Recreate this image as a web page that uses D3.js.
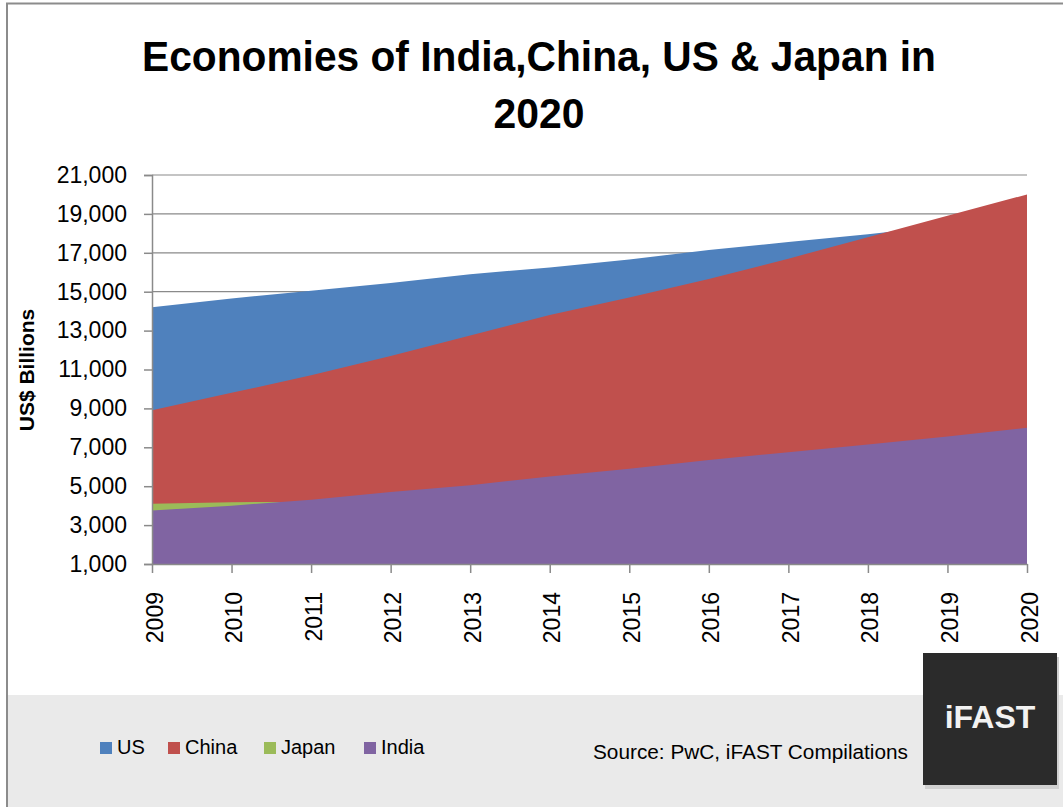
<!DOCTYPE html>
<html>
<head>
<meta charset="utf-8">
<script src="https://cdn.jsdelivr.net/npm/d3@7"></script>
<style>
    body { margin: 0; background: #fff; }
    svg { display: block; }
</style>
</head>
<body>
<div id="chart"></div>
<script>
'use strict';

// data (US$ billions)
const years = [2009, 2010, 2011, 2012, 2013, 2014, 2015, 2016, 2017, 2018, 2019, 2020];
const usValues = [14200, 14650, 15050, 15450, 15900, 16250, 16650, 17150, 17550, 17950, 18400, 18800];
const chinaValues = [8900, 9800, 10700, 11700, 12750, 13800, 14700, 15650, 16700, 17800, 18900, 20000];
const japanValues = [4100, 4180, 4190, 4280, 4370, 4450, 4530, 4610, 4690, 4770, 4850, 4930];
const indiaValues = [3750, 4000, 4300, 4700, 5050, 5500, 5900, 6350, 6750, 7150, 7550, 8000];
const seriesNames = ['US', 'China', 'Japan', 'India'];
const yTicks = [1000, 3000, 5000, 7000, 9000, 11000, 13000, 15000, 17000, 19000, 21000];

class AreaChart {

    constructor(_ref) {
        this.parent = _ref;

        // one list per series, drawn back to front
        this.series = [
            {name: 'US', values: usValues, color: '#4f81bd'},
            {name: 'China', values: chinaValues, color: '#c0504d'},
            {name: 'Japan', values: japanValues, color: '#9bbb59'},
            {name: 'India', values: indiaValues, color: '#8064a2'}
        ];

        this.initVis();
    }

    initVis() {
        const vis = this;

        // Config
        vis.w = 1063;
        vis.h = 807;
        vis.margin = {top: 175, right: 36, bottom: 243, left: 152};

        vis.svg = d3.select(`#${vis.parent}`)
            .append('svg')
            .attr('width', vis.w)
            .attr('height', vis.h)
            .style('font-family', '"Liberation Sans", Arial, sans-serif');

        // Bottom band
        vis.svg.append('rect')
            .attr('x', 8)
            .attr('y', 695)
            .attr('width', vis.w - 8)
            .attr('height', vis.h - 695)
            .attr('fill', '#eaeaea');

        // Frame
        vis.svg.append('path')
            .attr('d', `M7,${vis.h} V3.5 H${vis.w}`)
            .attr('fill', 'none')
            .attr('stroke', '#8c8c8c')
            .attr('stroke-width', 2);

        // Title
        vis.svg.append('text')
            .attr('x', 539)
            .attr('y', 71)
            .attr('text-anchor', 'middle')
            .attr('font-size', 43)
            .attr('font-weight', 'bold')
            .attr('textLength', 794)
            .attr('lengthAdjust', 'spacingAndGlyphs')
            .text('Economies of India,China, US & Japan in');

        vis.svg.append('text')
            .attr('x', 539)
            .attr('y', 128)
            .attr('text-anchor', 'middle')
            .attr('font-size', 43)
            .attr('font-weight', 'bold')
            .attr('textLength', 91)
            .attr('lengthAdjust', 'spacingAndGlyphs')
            .text('2020');

        // Scales
        vis.xScale = d3.scaleLinear()
            .domain(d3.extent(years))
            .range([vis.margin.left, vis.w - vis.margin.right]);

        vis.yScale = d3.scaleLinear()
            .domain([yTicks[0], yTicks[yTicks.length - 1]])
            .range([vis.h - vis.margin.bottom, vis.margin.top]);

        vis.plotG = vis.svg.append('g').attr('class', 'plotG');

        // Gridlines
        vis.plotG.selectAll('.grid')
            .data(yTicks.slice(1))
            .join('line')
            .attr('class', 'grid')
            .attr('x1', vis.xScale.range()[0])
            .attr('x2', vis.xScale.range()[1])
            .attr('y1', d => vis.yScale(d))
            .attr('y2', d => vis.yScale(d))
            .attr('stroke', '#8a8a8a')
            .attr('stroke-width', 1.2);

        vis.areaMaker = d3.area()
            .x(d => vis.xScale(d.year))
            .y0(vis.yScale(yTicks[0]))
            .y1(d => vis.yScale(d.value));

        vis.updateVis();
    }

    updateVis() {
        const vis = this;

        // Areas
        vis.plotG.selectAll('.area')
            .data(vis.series)
            .join('path')
            .attr('class', 'area')
            .attr('fill', d => d.color)
            .attr('d', d => vis.areaMaker(years.map((y, i) => ({year: y, value: d.values[i]}))));

        // Y axis
        const yAxis = d3.axisLeft(vis.yScale)
            .tickValues(yTicks)
            .tickFormat(d3.format(','))
            .tickSize(8)
            .tickPadding(17);

        const yG = vis.svg.append('g')
            .attr('transform', `translate(${vis.margin.left},0)`)
            .call(yAxis);

        // X axis
        const xAxis = d3.axisBottom(vis.xScale)
            .tickValues(years)
            .tickFormat(d3.format('d'))
            .tickSize(9)
            .tickSizeOuter(0);

        const xG = vis.svg.append('g')
            .attr('transform', `translate(0,${vis.yScale(yTicks[0])})`)
            .call(xAxis);

        xG.selectAll('text')
            .attr('transform', 'rotate(-90)')
            .attr('text-anchor', 'end')
            .attr('x', -28)
            .attr('y', 2)
            .attr('dy', '0.35em');

        [yG, xG].forEach(g => {
            g.select('.domain').attr('stroke', '#8a8a8a').attr('stroke-width', 1.5);
            g.selectAll('.tick line').attr('stroke', '#8a8a8a').attr('stroke-width', 1.5);
            g.selectAll('text')
                .attr('font-family', '"Liberation Sans", Arial, sans-serif')
                .attr('font-size', 23)
                .attr('fill', '#000');
        });

        // Y title
        vis.svg.append('text')
            .attr('transform', `translate(34,370) rotate(-90)`)
            .attr('text-anchor', 'middle')
            .attr('font-size', 21)
            .attr('font-weight', 'bold')
            .text('US$ Billions');

        // Legend
        const legendX = [100, 168, 264, 364];
        const legendG = vis.svg.append('g').attr('class', 'legendG');
        const item = legendG.selectAll('.legItem')
            .data(vis.series)
            .join('g')
            .attr('class', 'legItem')
            .attr('transform', (d, i) => `translate(${legendX[i]},742)`);

        item.append('rect')
            .attr('width', 12)
            .attr('height', 12)
            .attr('fill', d => d.color);

        item.append('text')
            .attr('x', 17)
            .attr('y', 12)
            .attr('font-size', 20)
            .text((d, i) => seriesNames[i]);

        // Source
        vis.svg.append('text')
            .attr('x', 593)
            .attr('y', 759)
            .attr('font-size', 20)
            .attr('textLength', 315)
            .attr('lengthAdjust', 'spacingAndGlyphs')
            .text('Source: PwC, iFAST Compilations');

        // Logo
        vis.svg.append('rect')
            .attr('x', 925)
            .attr('y', 657)
            .attr('width', 134)
            .attr('height', 132)
            .attr('fill', '#d0d0d0');
        vis.svg.append('rect')
            .attr('x', 923)
            .attr('y', 653)
            .attr('width', 134)
            .attr('height', 132)
            .attr('fill', '#2b2b2b');
        vis.svg.append('text')
            .attr('x', 990)
            .attr('y', 728)
            .attr('text-anchor', 'middle')
            .attr('font-size', 32)
            .attr('font-weight', 'bold')
            .attr('fill', '#f2f2f2')
            .text('iFAST');
    }
}

new AreaChart('chart');
</script>
</body>
</html>
